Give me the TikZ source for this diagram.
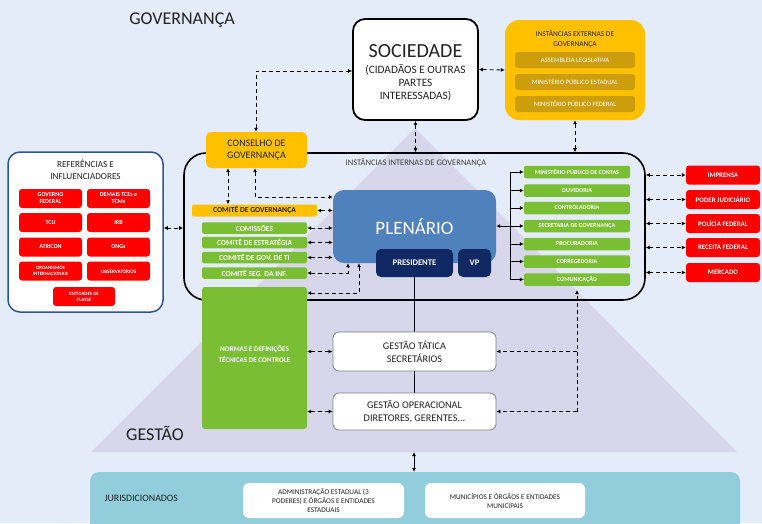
\documentclass[tikz,border=0pt]{standalone}
\usepackage{fontspec}
\setmainfont{Carlito}
\usetikzlibrary{arrows.meta}
\definecolor{bgc}{RGB}{229,236,249}
\definecolor{tric}{RGB}{216,214,234}
\definecolor{yelc}{RGB}{255,192,0}
\definecolor{goldc}{RGB}{204,158,12}
\definecolor{grnc}{RGB}{122,190,52}
\definecolor{redc}{RGB}{255,0,0}
\definecolor{plenc}{RGB}{79,129,189}
\definecolor{navyc}{RGB}{16,40,100}
\definecolor{tealc}{RGB}{146,205,220}
\definecolor{refc}{RGB}{47,85,151}
\definecolor{txtc}{RGB}{34,34,34}
\newcommand{\fs}[2]{\fontsize{#1}{#2}\selectfont}
\tikzset{
  bx/.style={rounded corners=3pt, inner sep=0pt, align=center},
  redbx/.style={bx, fill=redc, text=white, font=\fs{6}{7}\bfseries},
  redr/.style={bx, fill=redc, text=white, font=\fs{6.9}{8}\bfseries, minimum width=74pt, minimum height=19pt},
  grnr/.style={bx, rounded corners=2pt, fill=grnc, text=white, font=\fs{6.1}{7}\bfseries, minimum width=106pt, minimum height=12.5pt},
  grnl/.style={bx, rounded corners=2pt, fill=grnc, text=white, font=\fs{7.6}{8.5}\bfseries, minimum width=105pt, minimum height=11.5pt},
  goldbx/.style={bx, fill=goldc, text=white, font=\fs{6.6}{7.5}, minimum width=120pt, minimum height=16pt},
  gestbx/.style={bx, rounded corners=6pt, fill=white, draw=black!50, line width=0.8pt, text=txtc, font=\fs{10.2}{13}, minimum width=163pt},
  jurbx/.style={bx, rounded corners=6pt, fill=white, text=txtc, font=\fs{7.3}{9}},
  dar/.style={dash pattern=on 4pt off 3pt, line width=0.8pt, {Latex[length=4pt,width=4pt]}-{Latex[length=4pt,width=4pt]}},
  sar/.style={line width=0.8pt, -{Latex[length=4pt,width=4pt]}},
}
\begin{document}
\begin{tikzpicture}[x=1pt,y=-1pt]
\clip (0,0) rectangle (762,523);
\fill[bgc] (0,0) rectangle (762,523);
% pyramid
\fill[tric] (415,128) -- (737,452) -- (91,452) -- cycle;
\coordinate (tribase) at (414,452);
% titles
\node[font=\fs{18}{20}, text=txtc] (tgov) at (182,20) {GOVERNANÇA};
\node[font=\fs{18}{20}, text=txtc] (tgest) at (155,433) {GESTÃO};

% sociedade
\node[bx, rounded corners=12pt, draw=black, line width=1.8pt, fill=white, minimum width=125pt, minimum height=101pt] (soc) at (415.5,69.5) {};
\node[font=\fs{20}{22}, text=txtc] (socT) at (415.5,51.5) {SOCIEDADE};
\node[font=\fs{11.3}{12.8}, text=txtc, align=center] (socS) at (415.5,82.5) {(CIDADÃOS E OUTRAS\\PARTES\\INTERESSADAS)};

% externas
\node[bx, rounded corners=14pt, fill=yelc, minimum width=140pt, minimum height=100pt] (ext) at (575,70) {};
\node[font=\fs{7.4}{9.5}, text=txtc, align=center] (extT) at (575,39) {INSTÂNCIAS EXTERNAS DE\\GOVERNANÇA};
\node[goldbx] (al) at (575,60) {ASSEMBLEIA LEGISLATIVA};
\node[goldbx] (mpe) at (575,82) {MINISTÉRIO PÚBLICO ESTADUAL};
\node[goldbx] (mpf) at (575,104) {MINISTÉRIO PÚBLICO FEDERAL};

% referencias
\node[bx, rounded corners=12pt, draw=refc, line width=1.5pt, fill=white, minimum width=155pt, minimum height=160pt] (ref) at (85.5,232) {};
\node[font=\fs{9.2}{12.5}, text=txtc, align=center] (refT) at (85.5,170) {REFERÊNCIAS E\\INFLUENCIADORES};
\node[redbx, minimum width=63pt, minimum height=19pt] (gf) at (50.5,198.5) {GOVERNO\\FEDERAL};
\node[redbx, minimum width=63pt, minimum height=19pt] (dt) at (118.5,198.5) {DEMAIS TCEs e\\TCMs};
\node[redbx, minimum width=63pt, minimum height=19pt] (tcu) at (50.5,222.5) {TCU};
\node[redbx, minimum width=63pt, minimum height=19pt] (irb) at (118.5,222.5) {IRB};
\node[redbx, minimum width=63pt, minimum height=19pt] (atr) at (50.5,247) {ATRICON};
\node[redbx, minimum width=63pt, minimum height=19pt] (ong) at (118.5,247) {ONGs};
\node[redbx, minimum width=63pt, minimum height=19pt, font=\fs{4.9}{6}\bfseries] (org) at (50.5,271) {ORGANISMOS\\INTERNACIONAIS};
\node[redbx, minimum width=63pt, minimum height=19pt, font=\fs{5.1}{6}\bfseries] (obs) at (118.5,271) {OBSERVATÓRIOS};
\node[redbx, minimum width=62pt, minimum height=19pt, font=\fs{4.9}{6}\bfseries] (ent) at (84,296.5) {ENTIDADES DE\\CLASSE};

% container
\node[bx, rounded corners=22pt, draw=black, line width=1.6pt, minimum width=461pt, minimum height=147pt] (cont) at (414.5,226.5) {};
\node[font=\fs{8.5}{9}, text=black!75] (contT) at (416,163) {INSTÂNCIAS INTERNAS DE GOVERNANÇA};

% conselho
\node[bx, rounded corners=5pt, fill=yelc, text=txtc, font=\fs{10}{12.5}, minimum width=101pt, minimum height=36pt] (cons) at (256.5,150) {CONSELHO DE\\GOVERNANÇA};

% left stack
\node[bx, rounded corners=2pt, fill=yelc, text=txtc, font=\fs{7.6}{8.5}\bfseries, minimum width=125pt, minimum height=12pt] (cg) at (254.5,210.5) {COMITÊ DE GOVERNANÇA};
\node[grnl] (com) at (254.5,228) {COMISSÕES};
\node[grnl] (ce) at (254.5,242.5) {COMITÊ DE ESTRATÉGIA};
\node[grnl] (cti) at (254.5,257.5) {COMITÊ DE GOV. DE TI};
\node[grnl] (csi) at (254.5,273) {COMITÊ SEG. DA INF.};
\node[bx, rounded corners=3pt, fill=grnc, minimum width=105pt, minimum height=142pt] (nor) at (254.5,358) {};
\node[font=\fs{7.1}{11}\bfseries, text=white, align=center] (norT) at (254.5,354) {NORMAS E DEFINIÇÕES\\TÉCNICAS DE CONTROLE};

% plenario
\node[bx, rounded corners=11pt, fill=plenc, minimum width=163pt, minimum height=73pt] (plen) at (414.5,226.5) {};
\node[font=\fs{19}{21}, text=white] (plenT) at (414.5,227) {PLENÁRIO};
\node[bx, rounded corners=5pt, fill=navyc, text=white, font=\fs{8.6}{10}\bfseries, minimum width=77pt, minimum height=28pt] (pres) at (414.5,263) {PRESIDENTE};
\node[bx, rounded corners=5pt, fill=navyc, text=white, font=\fs{8.6}{10}\bfseries, minimum width=33pt, minimum height=28pt] (vp) at (474.5,263) {VP};

% right green stack
\node[grnr] (mpc) at (577,172) {MINISTÉRIO PÚBLICO DE CONTAS};
\node[grnr] (ouv) at (577,190.5) {OUVIDORIA};
\node[grnr] (ctl) at (577,208) {CONTROLADORIA};
\node[grnr] (sgv) at (577,226) {SECRETARIA DE GOVERNANÇA};
\node[grnr] (pro) at (577,244) {PROCURADORIA};
\node[grnr] (cor) at (577,261.5) {CORREGEDORIA};
\node[grnr] (cmu) at (577,279.5) {COMUNICAÇÃO};
\coordinate (brkT) at (510,172);
\coordinate (brkB) at (510,279.5);

% right red
\node[redr] (imp) at (723,175) {IMPRENSA};
\node[redr] (pj) at (723,199.5) {PODER JUDICIÁRIO};
\node[redr] (pf) at (723,223.5) {POLÍCIA FEDERAL};
\node[redr] (rf) at (723,247.5) {RECEITA FEDERAL};
\node[redr] (mer) at (723,272.5) {MERCADO};

% gestao
\node[gestbx, minimum height=39pt] (gt) at (414.5,351.5) {GESTÃO TÁTICA\\SECRETÁRIOS};
\node[gestbx, minimum height=37pt] (go) at (414.5,411.5) {GESTÃO OPERACIONAL\\DIRETORES, GERENTES...};

% jurisdicionados
\node[bx, rounded corners=9pt, fill=tealc, minimum width=650pt, minimum height=60pt] (jur) at (415,502) {};
\node[anchor=west, font=\fs{9.8}{11}, text=txtc] (jurT) at (101,498) {JURISDICIONADOS};
\node[jurbx, minimum width=161pt, minimum height=35pt] (j1) at (323.5,500.5) {ADMINISTRAÇÃO ESTADUAL (3\\PODERES) E ÓRGÃOS E ENTIDADES\\ESTADUAIS};
\node[jurbx, minimum width=160pt, minimum height=35pt] (j2) at (505,500.5) {MUNICÍPIOS E ÓRGÃOS E ENTIDADES\\MUNICIPAIS};

% ---------- connectors ----------
\coordinate (c1) at (256,71);
\draw[dar] (cons.north -| c1) -- (c1) -- (soc.west |- c1);
\draw[dar] (soc.east) -- (ext.west);
\draw[dar] (soc.south) -- (soc.south |- cont.north);
\draw[dar] (ext.south) -- (ext.south |- cont.north);
\draw[dar] (ref.east |- 0,228) -- (cont.west |- 0,228);
% conselho
\draw[dar] (cons.south -| 228,0) -- (cg.north -| 228,0);
\coordinate (c2) at (255,197);
\draw[dar] (cons.south -| c2) -- (c2) -- (plen.west |- c2);
% comites
\draw[dar] (cg.east) -- (plen.west |- cg.east);
\draw[dar] (com.east) -- (plen.west |- com.east);
\draw[dar] (ce.east) -- (plen.west |- ce.east);
\draw[dar] (cti.east) -- (plen.west |- cti.east);
\coordinate (c3) at (348,273);
\draw[dar] (csi.east) -- (c3) -- (plen.south -| c3);
\coordinate (c4) at (359,293);
\draw[dar] (nor.east |- c4) -- (c4) -- (plen.south -| c4);
% normas to gestao
\draw[dar] (nor.east |- gt.west) -- (gt.west);
\draw[dar] (nor.east |- go.west) -- (go.west);
% presidente line
\draw[line width=0.8pt] (pres.south) -- (gt.north);
\draw[line width=0.8pt] (gt.south) -- (go.north);
% bracket
\draw[line width=0.9pt] (brkT) -- (brkB);
\foreach \n in {mpc,ouv,ctl,sgv,pro,cor,cmu}{
  \draw[sar] (\n.west -| brkT) -- (\n.west);
}
\draw[sar] (sgv.west -| brkT) -- (sgv.west -| plen.east);
% right red
\foreach \n in {imp,pj,pf,rf,mer}{
  \draw[dar] (cont.east |- \n.west) -- (\n.west);
}
% comunicacao to gestao
\coordinate (c5) at (577,290);
\coordinate (c6) at (577,411.5);
\draw[dash pattern=on 4pt off 3pt, line width=0.8pt, -{Latex[length=4pt,width=4pt]}] (c6) -- (c5);
\draw[dash pattern=on 4pt off 3pt, line width=0.8pt, -{Latex[length=4pt,width=4pt]}] (c6) -- (go.east);
\draw[dash pattern=on 4pt off 3pt, line width=0.8pt, -{Latex[length=4pt,width=4pt]}] (gt.east -| c5) -- (gt.east);
% bottom
\draw[line width=0.8pt, {Latex[length=4pt,width=4pt]}-{Latex[length=4pt,width=4pt]}] (tribase) -- (tribase |- jur.north);
\end{tikzpicture}
\end{document}
